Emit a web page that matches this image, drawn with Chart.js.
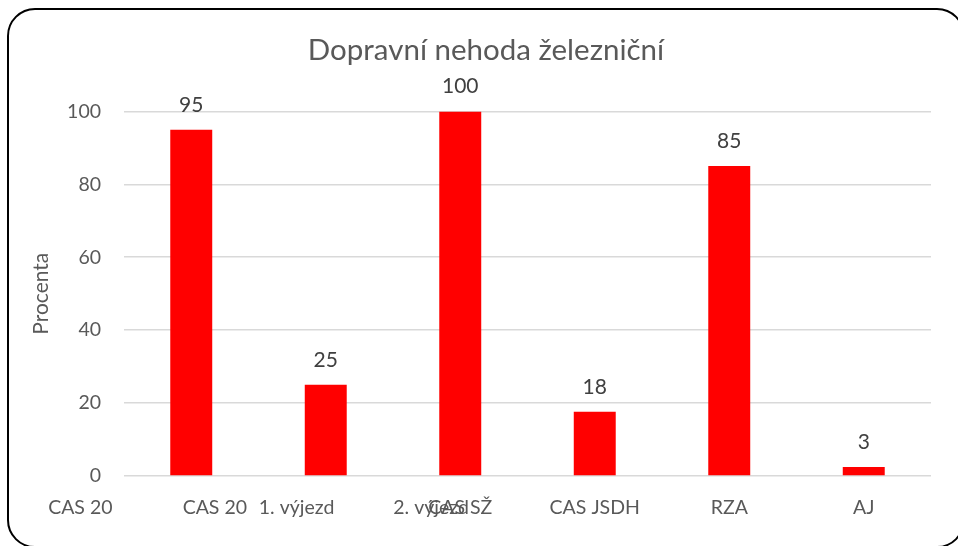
<!DOCTYPE html>
<html>
<head>
<meta charset="utf-8">
<script src="https://cdn.jsdelivr.net/npm/chart.js"></script>
<style>
  html, body { margin: 0; padding: 0; background: #fff; overflow: hidden; }
  #wrap { position: relative; width: 958px; height: 546px; overflow: hidden; }
  #frame {
    position: absolute; left: 7px; top: 8px; width: 958px; height: 540px;
    box-sizing: border-box; border: 2px solid #000; border-radius: 28px;
    pointer-events: none;
  }
  canvas { position: absolute; left: 0; top: 0; }
</style>
</head>
<body>
<div id="wrap">
  <canvas id="chart" width="958" height="546"></canvas>
  <div id="frame"></div>
</div>
<script>
// data
const categories = [["CAS 20", "1. výjezd"], ["CAS 20", "2. výjezd"], "CAS SŽ", "CAS JSDH", "RZA", "AJ"];
const values = [95, 25, 100, 17.6, 85, 2.5];
const yTicks = [0, 20, 40, 60, 80, 100];

const textGray = "#595959";
const fontName = "Lato, 'Open Sans', sans-serif";

// the two-part labels come out on one line with a wide gap, like in the original
const labelGap = "\u2003".repeat(10);

// value labels above the bars
const barValues = {
    id: "barValues",
    afterDatasetsDraw(chart) {
        const ctx = chart.ctx;
        const meta = chart.getDatasetMeta(0);
        ctx.save();
        ctx.font = "21px " + fontName;
        ctx.fillStyle = "#404040";
        ctx.textAlign = "center";
        ctx.textBaseline = "alphabetic";
        meta.data.forEach((bar, i) => {
            ctx.fillText(String(Math.round(values[i])), bar.x, bar.y - 18);
        });
        ctx.restore();
    }
};

new Chart(document.getElementById("chart"), {
    type: "bar",
    data: {
        labels: categories,
        datasets: [{
            data: values,
            backgroundColor: "#ff0000",
            borderWidth: 0,
            categoryPercentage: 1,
            barPercentage: 0.312
        }]
    },
    options: {
        responsive: false,
        animation: false,
        // title is centred on the whole frame, so the right margin is an empty axis
        layout: { padding: { left: 14, right: 0, top: 0, bottom: 0 } },
        plugins: {
            legend: { display: false },
            tooltip: { enabled: false },
            title: {
                display: true,
                text: "Dopravní nehoda železniční",
                color: textGray,
                font: { family: fontName, size: 29.5, weight: "normal", lineHeight: 1.2 },
                padding: { top: 33, bottom: 43 }
            }
        },
        scales: {
            x: {
                grid: { display: false },
                border: { display: false },
                ticks: {
                    color: textGray,
                    font: { family: fontName, size: 19.5 },
                    padding: 12,
                    autoSkip: false,
                    minRotation: 0,
                    maxRotation: 0,
                    callback: function (value) {
                        const l = this.getLabelForValue(value);
                        return Array.isArray(l) ? l.join(labelGap) : l;
                    }
                },
                afterFit: s => { s.height = 70; }
            },
            y: {
                min: yTicks[0],
                max: yTicks[yTicks.length - 1],
                afterBuildTicks: s => { s.ticks = yTicks.map(v => ({ value: v })); },
                grid: { color: "#d9d9d9", lineWidth: 1.5, drawTicks: false },
                border: { display: false },
                ticks: {
                    color: textGray,
                    font: { family: fontName, size: 19.5 },
                    padding: 23
                },
                title: {
                    display: true,
                    text: "Procenta",
                    color: textGray,
                    font: { family: fontName, size: 21, lineHeight: 1.2 },
                    padding: { top: 15, bottom: 0 }
                },
                afterFit: s => { s.width = 110; }
            },
            yRight: {
                position: "right",
                min: yTicks[0],
                max: yTicks[yTicks.length - 1],
                grid: { display: false },
                border: { display: false },
                ticks: { display: false },
                afterFit: s => { s.width = 27; }
            }
        }
    },
    plugins: [barValues]
});
</script>
</body>
</html>
